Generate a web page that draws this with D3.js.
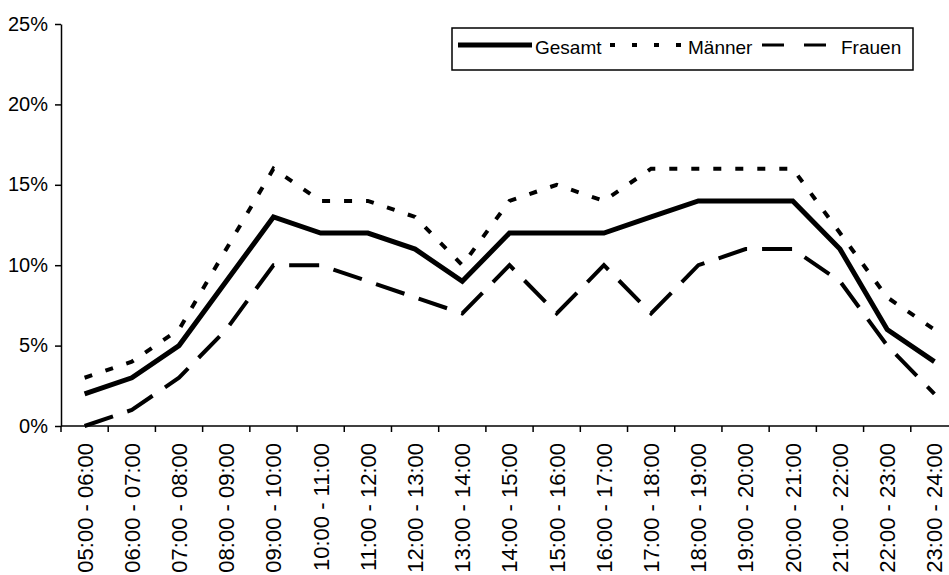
<!DOCTYPE html>
<html>
<head>
<meta charset="utf-8">
<script src="https://cdn.jsdelivr.net/npm/d3@7"></script>
<style>
  html, body { margin: 0; padding: 0; background: #fff; }
  svg { display: block; font-family: "Liberation Sans", Arial, sans-serif; }
</style>
</head>
<body>
<svg id="chart" width="949" height="575"></svg>
<script>
const categories = [
  "05:00 - 06:00", "06:00 - 07:00", "07:00 - 08:00", "08:00 - 09:00", "09:00 - 10:00",
  "10:00 - 11:00", "11:00 - 12:00", "12:00 - 13:00", "13:00 - 14:00", "14:00 - 15:00",
  "15:00 - 16:00", "16:00 - 17:00", "17:00 - 18:00", "18:00 - 19:00", "19:00 - 20:00",
  "20:00 - 21:00", "21:00 - 22:00", "22:00 - 23:00", "23:00 - 24:00"
];
const gesamt = [0.02, 0.03, 0.05, 0.09, 0.13, 0.12, 0.12, 0.11, 0.09, 0.12, 0.12, 0.12, 0.13, 0.14, 0.14, 0.14, 0.11, 0.06, 0.04];
const maenner = [0.03, 0.04, 0.06, 0.11, 0.16, 0.14, 0.14, 0.13, 0.10, 0.14, 0.15, 0.14, 0.16, 0.16, 0.16, 0.16, 0.12, 0.08, 0.06];
const frauen = [0.00, 0.01, 0.03, 0.06, 0.10, 0.10, 0.09, 0.08, 0.07, 0.10, 0.07, 0.10, 0.07, 0.10, 0.11, 0.11, 0.09, 0.05, 0.02];
const yTicks = [0, 0.05, 0.10, 0.15, 0.20, 0.25];
const seriesNames = ["Gesamt", "Männer", "Frauen"];

const svg = d3.select("#chart");
const plotLeft = 61, plotRight = 958, plotTop = 24, plotBottom = 426;

const x = d3.scaleBand().domain(categories).range([plotLeft, plotRight]).padding(0);
const y = d3.scaleLinear().domain([0, 0.25]).range([plotBottom, plotTop]);

// Y axis
const yAxis = svg.append("g")
  .attr("transform", `translate(${plotLeft},0)`)
  .call(d3.axisLeft(y).tickValues(yTicks).tickFormat(d3.format(".0%")).tickSize(6).tickSizeOuter(0).tickPadding(7));
yAxis.select(".domain").attr("stroke", "#000").attr("stroke-width", 1.5);
yAxis.selectAll(".tick line").attr("stroke", "#000").attr("stroke-width", 1.5);
yAxis.selectAll("text").style("font-size", "20px").attr("fill", "#000").attr("dy", "0.3em");

// X axis (labels at centers, ticks at category boundaries)
const xAxis = svg.append("g")
  .attr("transform", `translate(0,${plotBottom})`)
  .call(d3.axisBottom(x).tickSize(0).tickSizeOuter(0));
xAxis.select(".domain").remove();
xAxis.selectAll("text")
  .attr("y", 0)
  .attr("x", -17)
  .attr("dy", "0.36em")
  .attr("transform", "rotate(-90)")
  .style("text-anchor", "end")
  .style("font-size", "22px")
  .attr("fill", "#000");

svg.append("line")
  .attr("x1", plotLeft).attr("x2", 949)
  .attr("y1", y(0)).attr("y2", y(0))
  .attr("stroke", "#000").attr("stroke-width", 1.5);

svg.append("g").selectAll("line")
  .data(categories)
  .join("line")
  .attr("x1", d => x(d)).attr("x2", d => x(d))
  .attr("y1", y(0)).attr("y2", y(0) + 6)
  .attr("stroke", "#000").attr("stroke-width", 1.5);

// Lines
const line = d3.line()
  .x((d, i) => x(categories[i]) + x.bandwidth() / 2)
  .y(d => y(d));

const styles = [
  { data: gesamt, width: 5, dash: null },
  { data: maenner, width: 4, dash: "8,14" },
  { data: frauen, width: 4, dash: "30,15" }
];

svg.append("g").selectAll("path")
  .data(styles)
  .join("path")
  .attr("d", s => line(s.data))
  .attr("fill", "none")
  .attr("stroke", "#000")
  .attr("stroke-width", s => s.width)
  .attr("stroke-dasharray", s => s.dash)
  .attr("stroke-linejoin", "miter");

// Legend
const lg = svg.append("g");
lg.append("rect")
  .attr("x", 452).attr("y", 28).attr("width", 461).attr("height", 42)
  .attr("fill", "#fff").attr("stroke", "#000").attr("stroke-width", 1.5);

const legendItems = [
  { name: seriesNames[0], x1: 458, x2: 532, tx: 535, width: 5, dash: null },
  { name: seriesNames[1], x1: 610, x2: 682, tx: 688, width: 4, dash: "5,17" },
  { name: seriesNames[2], x1: 762, x2: 828, tx: 841, width: 3, dash: "22,20" }
];
legendItems.forEach(it => {
  lg.append("line")
    .attr("x1", it.x1).attr("x2", it.x2).attr("y1", 45).attr("y2", 45)
    .attr("stroke", "#000").attr("stroke-width", it.width)
    .attr("stroke-dasharray", it.dash);
  lg.append("text")
    .attr("x", it.tx).attr("y", 49)
    .attr("dominant-baseline", "middle")
    .style("font-size", "19px")
    .attr("fill", "#000")
    .text(it.name);
});
</script>
</body>
</html>
